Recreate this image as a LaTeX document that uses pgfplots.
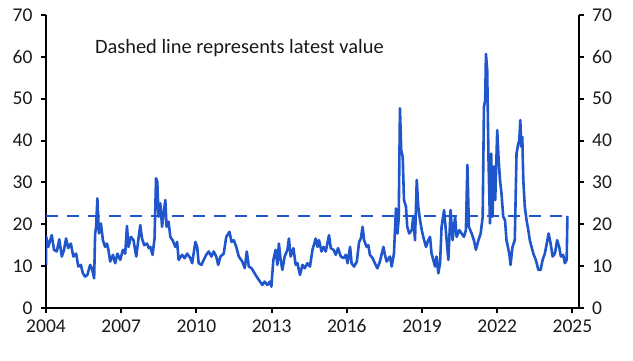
\documentclass[border=0pt]{standalone}
\usepackage{pgfplots}
\pgfplotsset{compat=1.18}
\usepackage{fontspec}
\setmainfont{Carlito}
\definecolor{lineblue}{RGB}{31,86,204}
\begin{document}
\begin{tikzpicture}
\useasboundingbox (0pt,0pt) rectangle (633pt,361pt);
\pgfplotsset{
  common/.style={
    at={(46pt,53pt)}, anchor=south west,
    width=532.7pt, height=293pt, scale only axis,
    xmin=2004, xmax=2025.25, ymin=0, ymax=70,
    ytick={0,10,...,70},
    tick align=outside, major tick length=5pt,
    axis line style={-, line width=2.4pt, black},
    tick style={black, line width=2pt},
    /pgf/number format/assume math mode=true,
    /pgf/number format/1000 sep={},
    every tick label/.append style={font=\fontsize{19.5}{22}\selectfont, text=black!90},
  }
}
\begin{axis}[common,
  axis x line*=bottom, axis y line*=left,
  xtick={2004,2007,...,2025},
  xticklabel style={yshift=-3pt},
  yticklabel style={xshift=-5pt},
]
\addplot[lineblue, line width=2.5pt, dash pattern=on 12pt off 9pt] coordinates {(2004,22) (2024.80,22)};
\addplot[lineblue, line width=2.6pt, line join=round] coordinates {
(2004.00,10.3) (2004.01,17) (2004.09,14.6) (2004.23,17.4) (2004.32,13.9) (2004.43,13.5)
(2004.53,16.4) (2004.63,12.3) (2004.72,13.9) (2004.80,16.6) (2004.89,14.3) (2004.99,15.4)
(2005.09,12.3) (2005.20,13) (2005.29,9.9) (2005.39,10.3) (2005.47,8.3) (2005.56,7.5)
(2005.65,7.9) (2005.76,10.3) (2005.83,9.5) (2005.92,7.1) (2005.96,17.8) (2006.00,19.4)
(2006.05,26.2) (2006.11,17.8) (2006.19,20.2) (2006.27,16.2) (2006.36,14.6) (2006.43,15.4)
(2006.49,13.9) (2006.56,11.1) (2006.67,12.7) (2006.76,10.7) (2006.85,13) (2006.96,11.5)
(2007.07,13.9) (2007.16,13) (2007.23,19.6) (2007.29,14.6) (2007.39,17) (2007.49,16.2)
(2007.60,12.3) (2007.69,16.6) (2007.76,19.8) (2007.83,16.6) (2007.92,15) (2008.03,15.4)
(2008.10,14.3) (2008.16,14.6) (2008.25,12.7) (2008.33,16.6) (2008.39,31) (2008.44,30.2)
(2008.49,21.8) (2008.56,25) (2008.63,19.4) (2008.69,22.6) (2008.76,25.8) (2008.81,19.4)
(2008.89,20.6) (2008.96,17) (2009.05,16.2) (2009.16,14.6) (2009.23,15.8) (2009.29,11.5)
(2009.43,12.7) (2009.53,11.9) (2009.63,13) (2009.76,11.9) (2009.83,10.7) (2009.96,15.8)
(2010.03,14.6) (2010.09,10.7) (2010.20,10.3) (2010.29,11.5) (2010.39,12.7) (2010.49,13.5)
(2010.60,12.3) (2010.69,13.5) (2010.79,12.3) (2010.87,10.3) (2010.96,12.3) (2011.09,13)
(2011.19,17) (2011.32,18.2) (2011.40,15.8) (2011.49,16.2) (2011.59,14.6) (2011.69,12.3)
(2011.83,11.1) (2011.93,9.5) (2012.01,13.5) (2012.09,9.9) (2012.20,9.5) (2012.36,7.9)
(2012.49,6.7) (2012.63,5.5) (2012.72,6.3) (2012.83,5.5) (2012.93,6.3) (2012.99,5.1)
(2013.07,11.5) (2013.16,13.9) (2013.23,10.3) (2013.29,15.4) (2013.36,11.5) (2013.43,9.1)
(2013.52,12.3) (2013.63,13.9) (2013.69,16.6) (2013.76,12.3) (2013.87,14.3) (2013.96,10.3)
(2014.03,10.7) (2014.13,7.9) (2014.23,10.3) (2014.32,9.5) (2014.43,10.7) (2014.53,9.9)
(2014.63,13.9) (2014.76,16.6) (2014.83,14.6) (2014.89,16.2) (2014.99,13.5) (2015.07,14.6)
(2015.16,13.5) (2015.29,17.4) (2015.36,14.3) (2015.47,13.9) (2015.56,12.7) (2015.65,14.3)
(2015.76,12.3) (2015.87,11.9) (2015.96,12.7) (2016.03,10.7) (2016.13,14.6) (2016.19,10.7)
(2016.29,9.9) (2016.40,11.1) (2016.49,15.8) (2016.56,16.6) (2016.63,19.4) (2016.69,16.2)
(2016.79,14.6) (2016.86,15) (2016.92,12.7) (2017.03,11.9) (2017.12,10.7) (2017.22,9.5)
(2017.32,11.1) (2017.46,14.6) (2017.52,12.7) (2017.59,11.1) (2017.72,12.3) (2017.79,9.9)
(2017.88,13) (2017.96,23.8) (2018.02,17.8) (2018.07,21.4) (2018.12,47.7) (2018.17,37.7)
(2018.23,36.1) (2018.28,25.8) (2018.36,24.2) (2018.41,19.4) (2018.49,17.8) (2018.59,18.6)
(2018.65,21.8) (2018.72,16.2) (2018.79,30.6) (2018.85,24.2) (2018.92,21) (2018.99,18.6)
(2019.05,17) (2019.16,14.6) (2019.25,16.2) (2019.32,17) (2019.38,13) (2019.45,11.5)
(2019.52,9.9) (2019.58,12.3) (2019.65,8.3) (2019.72,10.7) (2019.78,19.4) (2019.88,23.4)
(2019.96,17.8) (2020.05,11.5) (2020.14,23.4) (2020.22,16.2) (2020.32,21.8) (2020.38,17)
(2020.49,18.6) (2020.58,17.8) (2020.67,17) (2020.75,18.6) (2020.81,34.2) (2020.87,19.4)
(2020.98,17.8) (2021.07,16.2) (2021.15,13.9) (2021.25,16.2) (2021.34,17.8) (2021.42,21.8)
(2021.47,48) (2021.52,49.7) (2021.55,60.7) (2021.60,56.8) (2021.65,36) (2021.71,20.2)
(2021.76,36.9) (2021.81,21.8) (2021.87,33.8) (2021.92,25.8) (2022.00,42.5) (2022.05,36.1)
(2022.11,30.6) (2022.17,27.4) (2022.24,21.8) (2022.31,21) (2022.37,16.2) (2022.48,13)
(2022.53,10.3) (2022.61,14.6) (2022.70,16.2) (2022.77,36.9) (2022.84,39.3) (2022.88,40)
(2022.92,44.9) (2022.96,38.5) (2023.00,40.9) (2023.04,30.6) (2023.10,24.2) (2023.17,21)
(2023.24,18.6) (2023.30,16.2) (2023.37,14.6) (2023.44,13) (2023.54,11.5) (2023.64,9.1)
(2023.73,9.1) (2023.81,11.5) (2023.90,13) (2024.00,16.2) (2024.05,17.8) (2024.13,15.4)
(2024.21,12.3) (2024.30,13) (2024.39,16.2) (2024.47,14.6) (2024.54,12.3) (2024.63,12.7)
(2024.70,10.7) (2024.77,11.5) (2024.80,22)
};
\node[anchor=west, font=\fontsize{20.4}{23}\selectfont, text=black!90, inner sep=0pt] at (axis cs:2005.95,62.1) {Dashed line represents latest value};
\end{axis}
\begin{axis}[common,
  axis x line=none, axis y line*=right,
  yticklabel style={xshift=5pt},
]
\addplot[draw=none] coordinates {(2004,0)};
\end{axis}
\end{tikzpicture}
\end{document}
